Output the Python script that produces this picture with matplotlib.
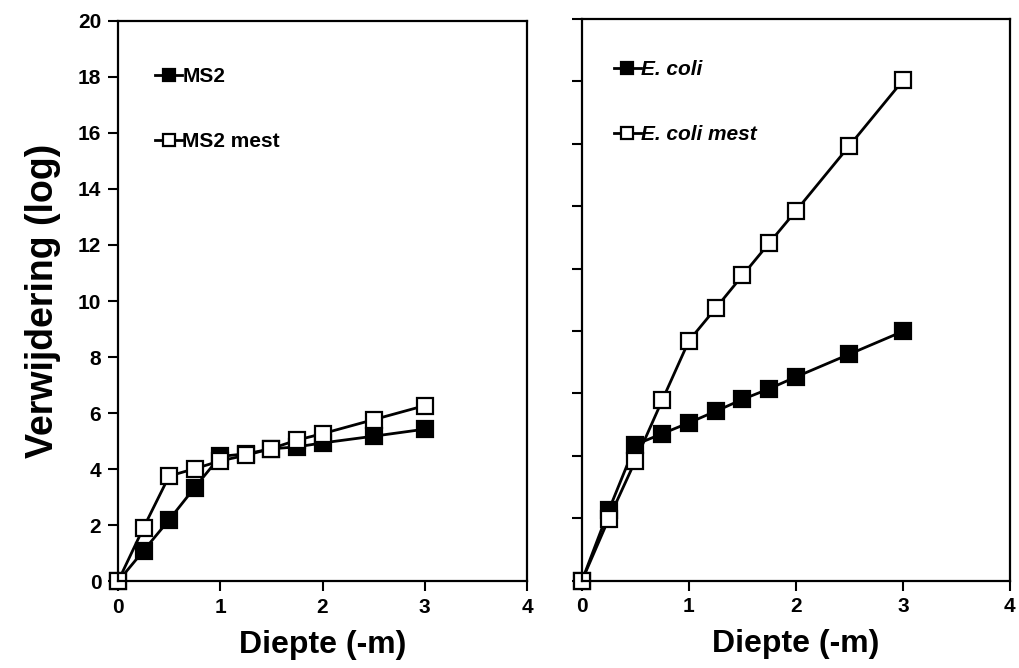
import matplotlib.pyplot as plt

# diepte in meters
diepte = [0, 0.25, 0.5, 0.75, 1.0, 1.25, 1.5, 1.75, 2.0, 2.5, 3.0]

# verwijdering (log) per organisme
ms2 = [0, 1.1, 2.2, 3.35, 4.46, 4.55, 4.73, 4.8, 4.94, 5.18, 5.43]
ms2_mest = [0, 1.92, 3.76, 4.02, 4.3, 4.5, 4.74, 5.04, 5.27, 5.77, 6.27]
ecoli = [0, 2.25, 4.36, 4.71, 5.06, 5.43, 5.81, 6.15, 6.53, 7.26, 7.99]
ecoli_mest = [0, 1.98, 3.85, 5.78, 7.69, 8.73, 9.78, 10.82, 11.85, 13.94, 16.03]

plt.rcParams['font.family'] = ['Liberation Sans', 'DejaVu Sans']
plt.rcParams['font.weight'] = 'bold'

fig = plt.figure(figsize=(10.19, 6.68), dpi=100)
ax1 = fig.add_axes([0.1158, 0.1295, 0.4014, 0.8398])
ax2 = fig.add_axes([0.5711, 0.1307, 0.4200, 0.8409])

lijn = dict(color='black', lw=2.0, marker='s', markersize=11,
            markeredgewidth=1.6, markeredgecolor='black', clip_on=False)


def opmaak(ax, ymax, labels_y=True):
    ax.set_xlim(0, 4)
    ax.set_ylim(0, ymax)
    ax.set_xticks([0, 1, 2, 3, 4])
    ax.set_yticks(range(0, ymax + 1, 2))
    for s in ax.spines.values():
        s.set_linewidth(1.6)
    ax.tick_params(direction='out', length=7, width=1.5, labelsize=15, pad=5)
    if not labels_y:
        ax.set_yticklabels([])
    ax.set_xlabel('Diepte (-m)', fontsize=23, fontweight='bold', labelpad=9)


ax1.plot(diepte, ms2, markerfacecolor='black', label='MS2', **lijn)
ax1.plot(diepte, ms2_mest, markerfacecolor='white', label='MS2 mest', **lijn)
opmaak(ax1, 20)
ax1.set_ylabel('Verwijdering (log)', fontsize=27, fontweight='bold', labelpad=12)

ax2.plot(diepte, ecoli, markerfacecolor='black', label='E. coli', **lijn)
ax2.plot(diepte, ecoli_mest, markerfacecolor='white', label='E. coli mest', **lijn)
opmaak(ax2, 18, labels_y=False)

for ax, stijl, pos in [(ax1, 'normal', (0.045, 0.95)), (ax2, 'italic', (0.03, 0.96))]:
    ax.legend(loc='upper left', bbox_to_anchor=pos, frameon=False,
              handlelength=1.3, handletextpad=0.0, labelspacing=2.2,
              markerscale=0.75, prop={'size': 15, 'weight': 'bold', 'style': stijl})

fig.savefig('out.png', dpi=100)
